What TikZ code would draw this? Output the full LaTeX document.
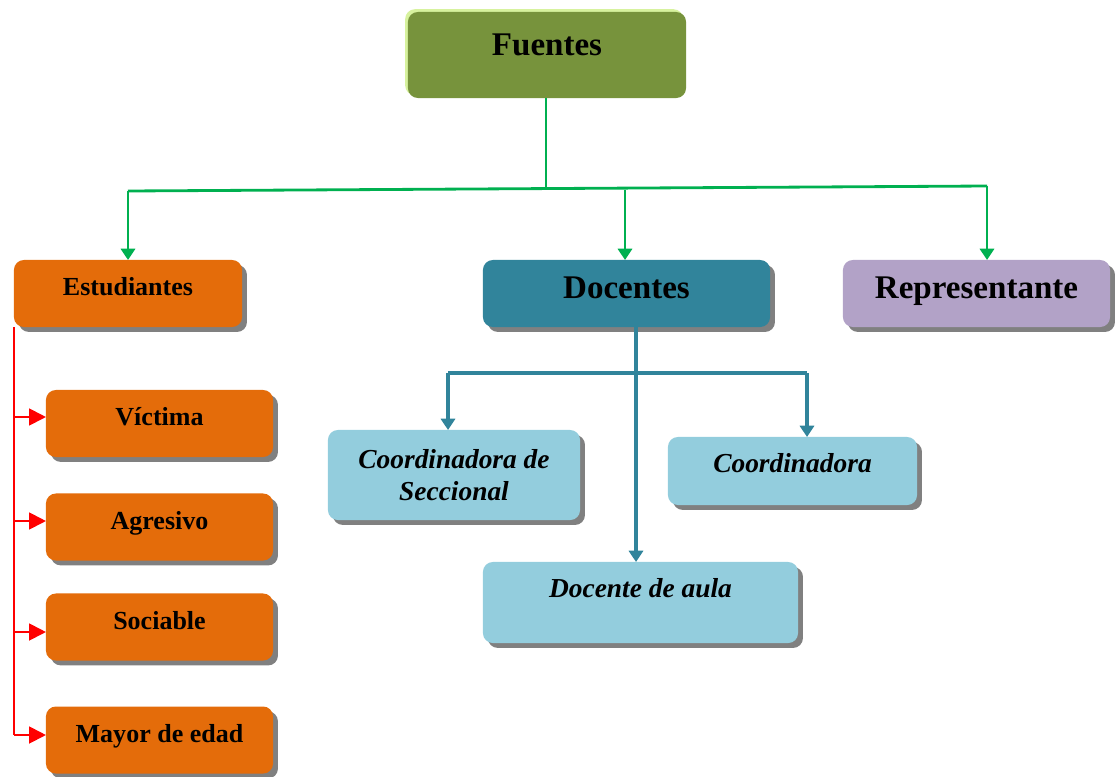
\documentclass[tikz,border=0pt]{standalone}
\usepackage{fontspec}
\setmainfont{Liberation Serif}
\usepackage{xcolor}
\usetikzlibrary{arrows.meta, shadows}

\definecolor{fgreen}{HTML}{77933C}
\definecolor{fglow}{HTML}{D7F29E}
\definecolor{orng}{HTML}{E46C0A}
\definecolor{teal}{HTML}{31849B}
\definecolor{lila}{HTML}{B2A2C7}
\definecolor{celeste}{HTML}{93CDDD}
\definecolor{lgreen}{HTML}{00B050}
\definecolor{shd}{HTML}{808080}

\tikzset{
  box/.style={rounded corners=7pt, inner sep=0pt, outer sep=0pt,
    drop shadow={shadow xshift=3.5pt, shadow yshift=-3.5pt, fill=shd, opacity=1}},
  raise/.style={text height=0.66em, text depth=#1},
  big/.style={font=\fontsize{23.5}{26}\selectfont\bfseries},
  small/.style={font=\fontsize{18.5}{21}\selectfont\bfseries},
  ital/.style={font=\fontsize{19.5}{23}\selectfont\bfseries\itshape},
  gline/.style={lgreen, line width=2pt},
  tline/.style={teal, line width=2.6pt},
  tip/.style={-{Triangle[width=10pt,length=8pt]}},
}

\begin{document}
\begin{tikzpicture}[x=0.025cm, y=-0.025cm]
    \useasboundingbox (0,0) rectangle (1117,776);

    % Top
    \node[rounded corners=7pt, inner sep=0pt, fill=fgreen, big, raise=5.6pt,
      minimum width=6.95cm, minimum height=2.15cm,
      drop shadow={shadow xshift=-2pt, shadow yshift=2pt, fill=fglow, opacity=1}]
      (fuentes) at (547,55) {Fuentes};

    % Second level
    \node[box, fill=orng, small, raise=3.7pt, minimum width=5.7cm, minimum height=1.675cm]
      (estud) at (128,293.5) {Estudiantes};
    \node[box, fill=teal, big, raise=0pt, minimum width=7.175cm, minimum height=1.675cm]
      (docentes) at (626.5,293.5) {Docentes};
    \node[box, fill=lila, big, raise=0pt, minimum width=6.675cm, minimum height=1.675cm]
      (repre) at (976.5,293.5) {Representante};

    % Students
    \node[box, fill=orng, small, raise=3.3pt, minimum width=5.675cm, minimum height=1.675cm]
      (victima) at (159.5,423.5) {Víctima};
    \node[box, fill=orng, small, raise=3.3pt, minimum width=5.675cm, minimum height=1.675cm]
      (agresivo) at (159.5,527) {Agresivo};
    \node[box, fill=orng, small, raise=3.3pt, minimum width=5.675cm, minimum height=1.675cm]
      (sociable) at (159.5,627) {Sociable};
    \node[box, fill=orng, small, raise=3.3pt, minimum width=5.675cm, minimum height=1.675cm]
      (mayor) at (159.5,740) {Mayor de edad};

    % Teachers
    \node[box, fill=celeste, ital, align=center, minimum width=6.3cm, minimum height=2.25cm]
      (secc) at (454,475) {Coordinadora de\\Seccional};
    \node[box, fill=celeste, ital, raise=4.3pt, minimum width=6.225cm, minimum height=1.7cm]
      (coord) at (792.5,471) {Coordinadora};
    \node[box, fill=celeste, ital, raise=13.3pt, minimum width=7.875cm, minimum height=2.025cm]
      (aula) at (640.5,602.5) {Docente de aula};

    % Green lines
    \coordinate (gm) at (546,189);
    \coordinate (gl) at (128,191);
    \coordinate (gc) at (625,190);
    \coordinate (gr) at (987,186);
    \draw[gline] (fuentes.south -| gm) -- (gm);
    \draw[gline] (gl) -- (gr);
    \draw[gline, tip] (gl) -- (estud.north);
    \draw[gline, tip] (gc) -- (docentes.north -| gc);
    \draw[gline, tip] (gr) -- (repre.north -| gr);

    % Teal lines
    \coordinate (tm) at (636,327);
    \coordinate (tl) at (448,373);
    \coordinate (tr) at (807,373);
    \draw[tline, tip] (tm) -- (aula.north -| tm);
    \draw[tline] (tl) -- (tr);
    \draw[tline, tip] (tl) -- (secc.north -| tl);
    \draw[tline, tip] (tr) -- (coord.north -| tr);

    % Red lines
    \draw[red, line width=1.4pt] (14,327) -- (14,735);
    \foreach \n/\y in {victima/417, agresivo/521, sociable/632, mayor/735}
      \draw[red, line width=1.4pt, -{Triangle[width=12pt,length=12pt]}] (14,\y) -- (\n.west |- 0,\y);
\end{tikzpicture}
\end{document}
